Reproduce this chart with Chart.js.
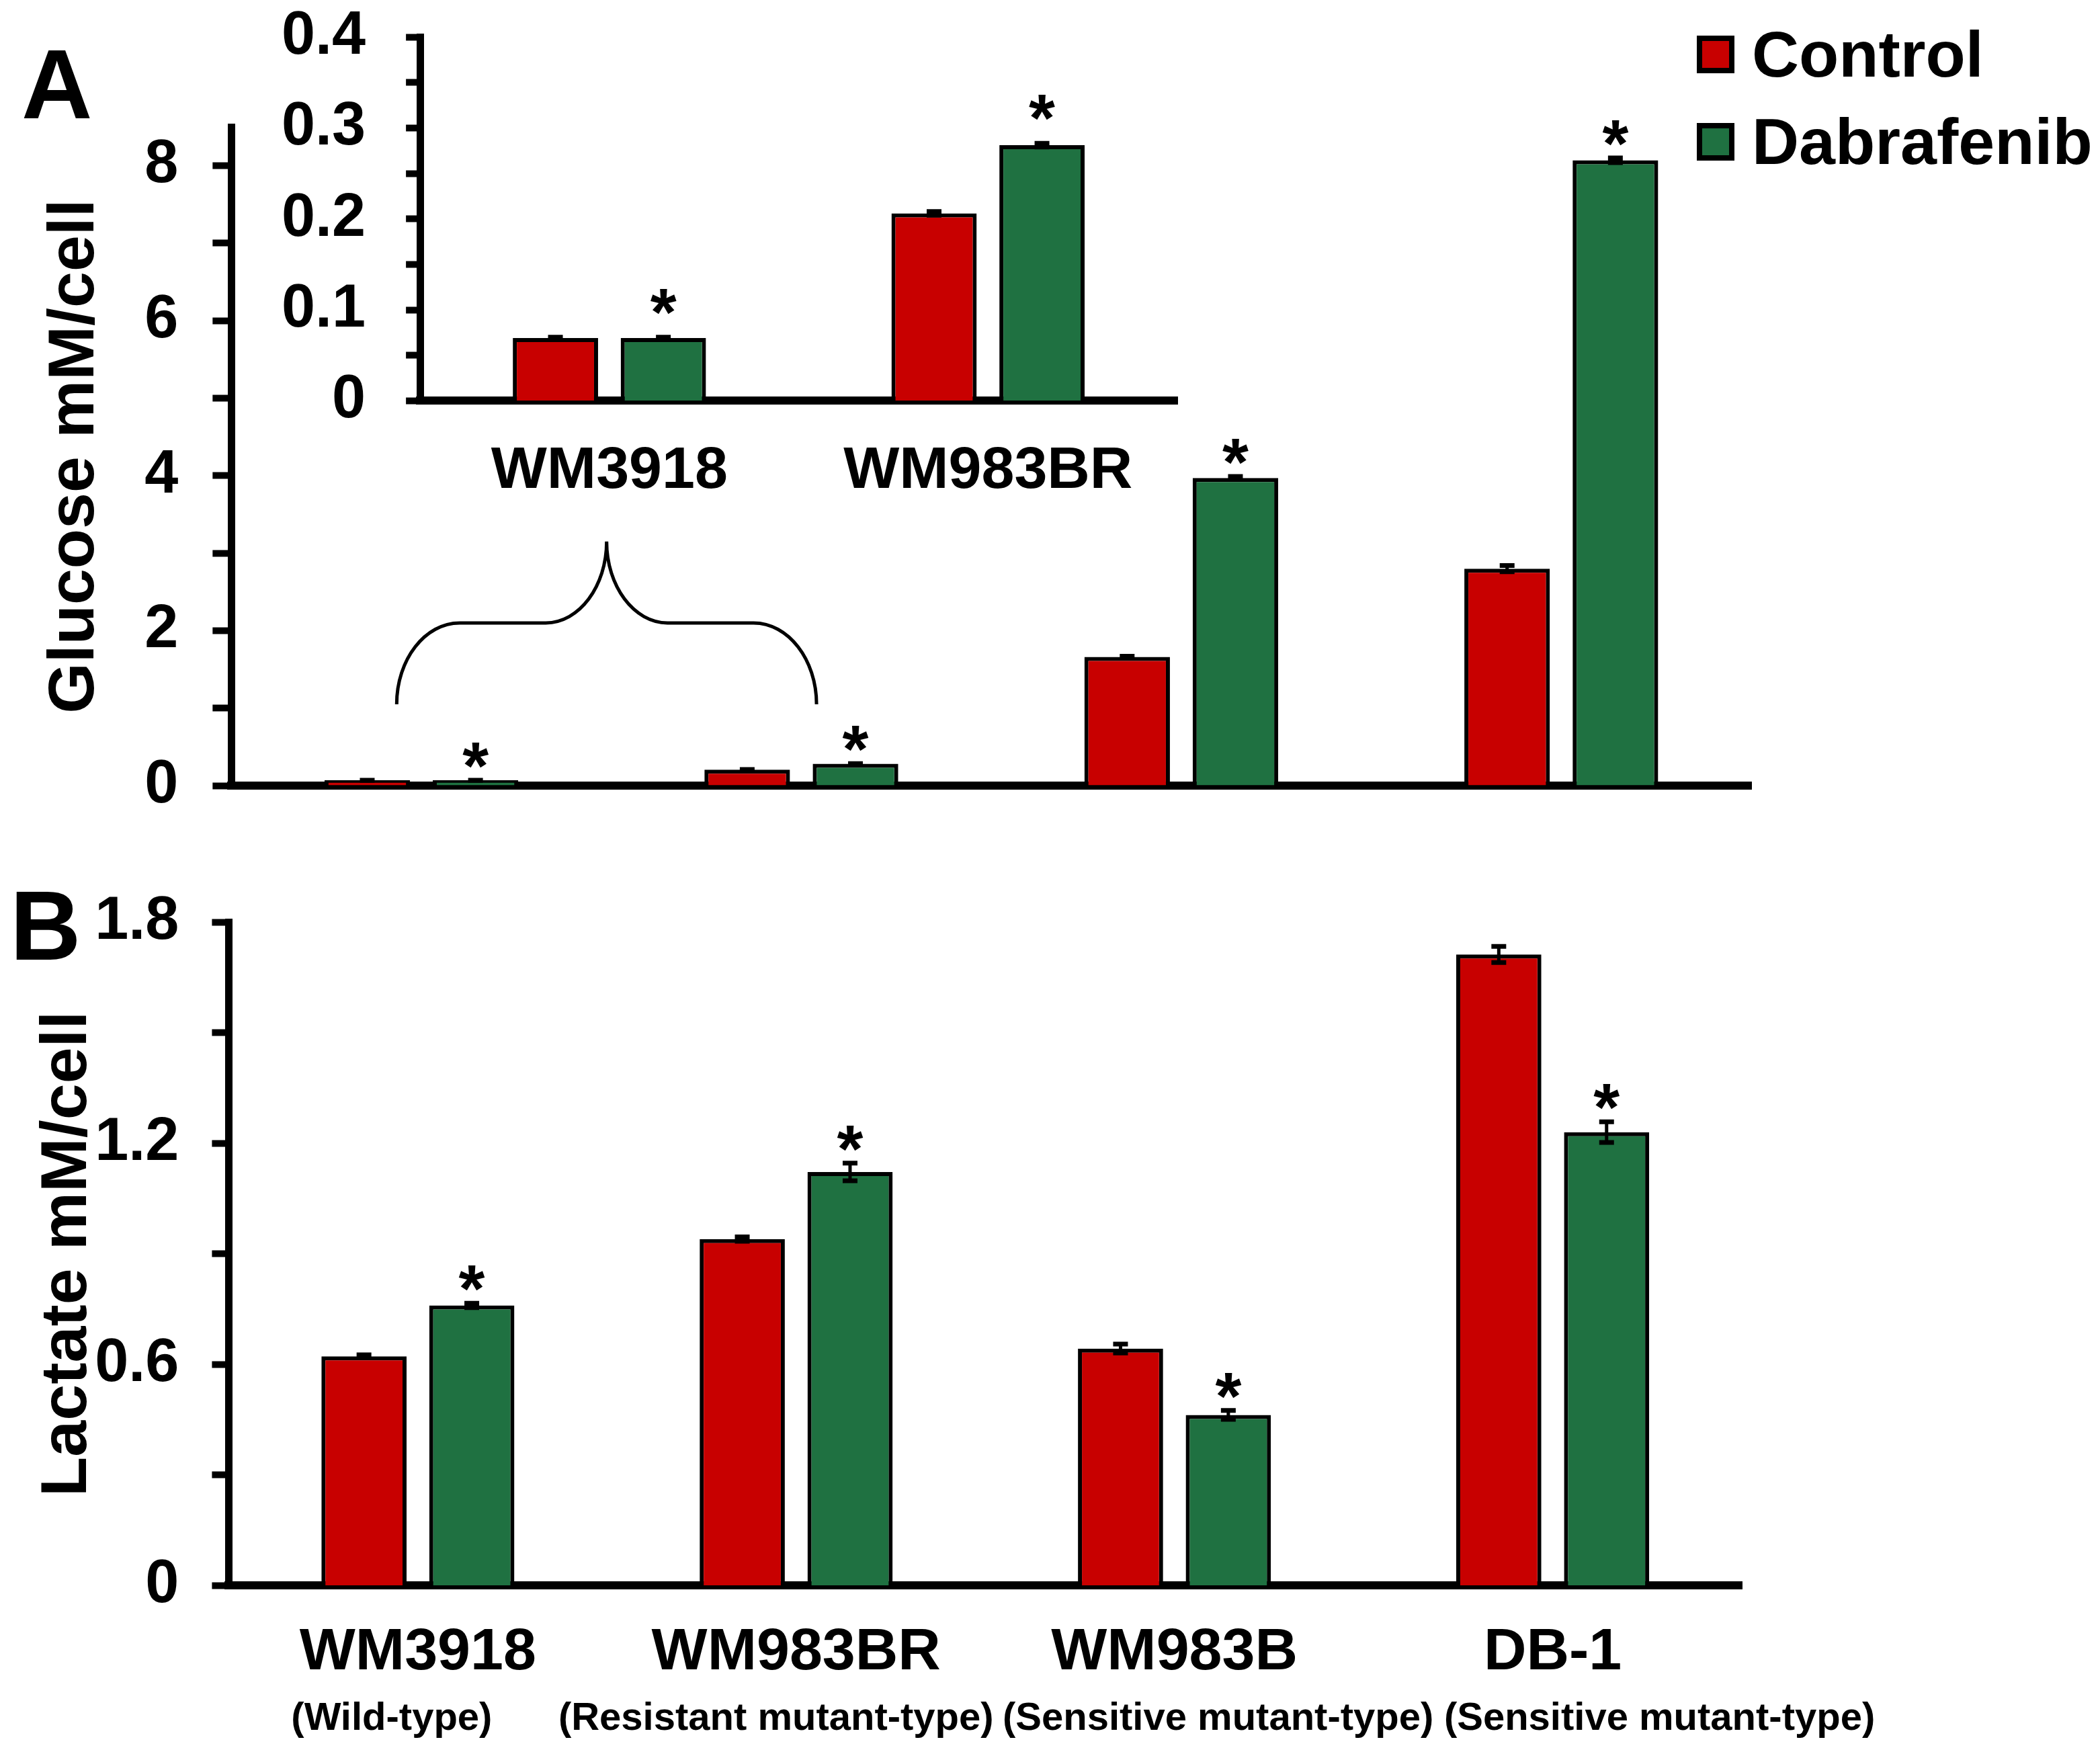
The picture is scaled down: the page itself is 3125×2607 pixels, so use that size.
<!DOCTYPE html>
<html>
<head>
<meta charset="utf-8">
<script src="https://cdn.jsdelivr.net/npm/chart.js@4.4.1/dist/chart.umd.min.js"></script>
<style>
  html, body { margin: 0; padding: 0; background: #fff; }
  body { width: 3125px; height: 2607px; position: relative; overflow: hidden; font-family: "Liberation Sans", Arial, sans-serif; color: #000; }
  canvas { position: absolute; }
  .panel-letter { position: absolute; font-weight: bold; font-size: 146px; line-height: 1; }
  #legend { position: absolute; left: 2525px; top: 16px; }
  .legend-row { display: flex; align-items: center; height: 130px; font-weight: bold; font-size: 97px; white-space: nowrap; }
  .swatch { width: 56px; height: 56px; box-sizing: border-box; border: 8px solid #000; margin-right: 26px; }
</style>
</head>
<body>
<canvas id="chart-a" width="2700" height="1274" style="left:0;top:0"></canvas>
<canvas id="chart-inset" width="1500" height="867" style="left:300px;top:-59px"></canvas>
<canvas id="chart-b" width="3125" height="1338" style="left:0;top:1269px"></canvas>
<div class="panel-letter" style="left:32px;top:53px">A</div>
<div class="panel-letter" style="left:15px;top:1305px">B</div>
<div id="legend"></div>

<script>
// --- DATA ---
const cellLines = ["WM3918", "WM983BR", "WM983B", "DB-1"];
const cellTypes = ["(Wild-type)", "(Resistant mutant-type)", "(Sensitive mutant-type)", "(Sensitive mutant-type)"];
const seriesNames = ["Control", "Dabrafenib"];
const seriesColors = ["#C80000", "#1F7141"];

// A: glucose
const glucoseControl = [0.069, 0.206, 1.66, 2.80];
const glucoseDabrafenib = [0.069, 0.281, 3.97, 8.07];
const glucoseControlErr = [0.001, 0.002, 0.01, 0.04];
const glucoseDabrafenibErr = [0.001, 0.002, 0.02, 0.03];
const glucoseSignificant = [true, true, true, true];
const glucoseTicks = [0, 2, 4, 6, 8];

// A inset: first two cell lines on a finer scale
const insetCount = 2;
const insetTicks = [0, 0.1, 0.2, 0.3, 0.4];

// B: lactate
const lactateControl = [0.622, 0.940, 0.643, 1.712];
const lactateDabrafenib = [0.760, 1.122, 0.463, 1.230];
const lactateControlErr = [0.004, 0.006, 0.012, 0.022];
const lactateDabrafenibErr = [0.006, 0.024, 0.012, 0.028];
const lactateSignificant = [true, true, true, true];
const lactateTicks = [0, 0.6, 1.2, 1.8];

// --- STYLE ---
const FONT = '"Liberation Sans", Arial, sans-serif';
Chart.defaults.font.family = FONT;
Chart.defaults.color = '#000';
const tickFont = { size: 90, weight: 'bold' };
const catFont = { size: 88, weight: 'bold' };
const titleFont = { size: 97, weight: 'bold', lineHeight: 0.9 };

// major ticks plus a minor tick halfway between each pair
const withMinor = (majors) => {
  const out = [];
  majors.forEach((v, i) => {
    out.push(v);
    if (i < majors.length - 1) out.push((v + majors[i + 1]) / 2);
  });
  return out;
};
const fmt = (v) => v === 0 ? '0' : String(v);

// --- PLUGINS ---
const errorBars = {
  id: 'errorBars',
  afterDatasetsDraw(chart, args, opts) {
    const { ctx } = chart;
    const y = chart.scales.y;
    ctx.save();
    ctx.strokeStyle = '#000';
    opts.errors.forEach((errs, di) => {
      chart.getDatasetMeta(di).data.forEach((bar, i) => {
        const v = chart.data.datasets[di].data[i];
        const top = y.getPixelForValue(v + errs[i]);
        const bot = y.getPixelForValue(v - errs[i]);
        ctx.lineWidth = 5;
        ctx.beginPath();
        ctx.moveTo(bar.x, top);
        ctx.lineTo(bar.x, bot);
        ctx.stroke();
        ctx.lineWidth = 7;
        ctx.beginPath();
        ctx.moveTo(bar.x - 11, top); ctx.lineTo(bar.x + 11, top);
        ctx.moveTo(bar.x - 11, bot); ctx.lineTo(bar.x + 11, bot);
        ctx.stroke();
      });
    });
    ctx.restore();
  }
};

const stars = {
  id: 'stars',
  afterDatasetsDraw(chart, args, opts) {
    const { ctx } = chart;
    const y = chart.scales.y;
    const ds = opts.dataset;
    ctx.save();
    ctx.fillStyle = '#000';
    ctx.font = `bold ${opts.size}px ${FONT}`;
    ctx.textAlign = 'center';
    ctx.textBaseline = 'alphabetic';
    chart.getDatasetMeta(ds).data.forEach((bar, i) => {
      if (!opts.marks[i]) return;
      const v = chart.data.datasets[ds].data[i];
      const top = y.getPixelForValue(v + opts.errors[i]);
      ctx.fillText('*', bar.x, top - opts.gap + 0.57 * opts.size);
    });
    ctx.restore();
  }
};

const brace = {
  id: 'brace',
  afterDraw(chart, args, opts) {
    if (!opts.span) return;
    const { ctx } = chart;
    const x = chart.scales.x, y = chart.scales.y;
    const xL = x.getPixelForValue(opts.span[0]);
    const xR = x.getPixelForValue(opts.span[1]);
    const xM = (xL + xR) / 2;
    const [yB, yS, yP] = opts.levels.map(v => y.getPixelForValue(v));
    const half = xM - xL;
    const c1 = half * 0.3, c2 = half * 0.29, k = 0.55;
    ctx.save();
    ctx.strokeStyle = '#000';
    ctx.lineWidth = 5;
    ctx.beginPath();
    [1, -1].forEach(dir => {
      const x0 = dir > 0 ? xL : xR;
      ctx.moveTo(x0, yB);
      ctx.bezierCurveTo(x0, yB - k * (yB - yS), x0 + dir * (c1 - k * c1), yS, x0 + dir * c1, yS);
      ctx.lineTo(xM - dir * c2, yS);
      ctx.bezierCurveTo(xM - dir * (c2 - k * c2), yS, xM, yP + k * (yS - yP), xM, yP);
    });
    ctx.stroke();
    ctx.restore();
  }
};

const subLabels = {
  id: 'subLabels',
  afterDraw(chart, args, opts) {
    if (!opts.labels) return;
    const { ctx, chartArea } = chart;
    const x = chart.scales.x;
    ctx.save();
    ctx.fillStyle = '#000';
    ctx.font = `bold ${opts.size}px ${FONT}`;
    ctx.textAlign = 'center';
    ctx.textBaseline = 'middle';
    opts.labels.forEach((t, i) => {
      ctx.fillText(t, x.getPixelForValue(i) + opts.shift[i], chartArea.bottom + opts.offset);
    });
    ctx.restore();
  }
};

// --- CHART BUILDER ---
function barChart(canvasId, cfg) {
  return new Chart(document.getElementById(canvasId), {
    type: 'bar',
    data: {
      labels: cfg.labels,
      datasets: cfg.series.map((d, i) => ({
        label: seriesNames[i],
        data: d,
        backgroundColor: seriesColors[i],
        borderColor: '#000',
        borderWidth: 6,
        categoryPercentage: 0.57,
        barPercentage: 0.79
      }))
    },
    options: {
      responsive: false,
      devicePixelRatio: 1,
      animation: false,
      events: [],
      layout: { padding: cfg.padding },
      scales: {
        x: {
          ticks: { display: cfg.showX, font: catFont, color: '#000', padding: cfg.xPad, maxRotation: 0, autoSkip: false },
          grid: { display: true, drawOnChartArea: false, drawTicks: false },
          border: { color: '#000', width: 12 }
        },
        y: {
          min: 0,
          max: cfg.max,
          afterBuildTicks: (scale) => { scale.ticks = withMinor(cfg.ticks).map(v => ({ value: v })); },
          ticks: {
            font: tickFont, color: '#000', padding: cfg.yPad, autoSkip: false,
            callback: (v) => cfg.ticks.includes(v) ? fmt(v) : ''
          },
          grid: { drawOnChartArea: false, drawTicks: true, tickLength: cfg.tickLen, tickWidth: 10, tickColor: '#000' },
          border: { color: '#000', width: 11 },
          title: cfg.title
            ? { display: true, text: cfg.title, font: titleFont, color: '#000', padding: cfg.titlePad }
            : { display: false }
        }
      },
      plugins: {
        legend: { display: false },
        tooltip: { enabled: false },
        errorBars: { errors: cfg.errors },
        stars: { dataset: 1, marks: cfg.marks, errors: cfg.errors[1], gap: cfg.starGap || 44, size: 100 },
        brace: cfg.brace || {},
        subLabels: cfg.subLabels || {}
      }
    },
    plugins: [errorBars, stars, brace, subLabels]
  });
}

// A: glucose, main axes
barChart('chart-a', {
  labels: cellLines,
  series: [glucoseControl, glucoseDabrafenib],
  errors: [glucoseControlErr, glucoseDabrafenibErr],
  marks: glucoseSignificant,
  max: 8.5,
  ticks: glucoseTicks,
  showX: false,
  xPad: 0,
  yPad: 51,
  tickLen: 28,
  title: 'Glucose mM/cell',
  titlePad: { top: 0, bottom: 8 },
  padding: { left: 69, top: 189, right: 94, bottom: 0 },
  brace: { span: [-0.065, 1.04], levels: [1.05, 2.1, 3.15] }
});

// A inset: zoom on the two low-glucose lines
barChart('chart-inset', {
  labels: cellLines.slice(0, insetCount),
  series: [glucoseControl.slice(0, insetCount), glucoseDabrafenib.slice(0, insetCount)],
  errors: [glucoseControlErr.slice(0, insetCount), glucoseDabrafenibErr.slice(0, insetCount)],
  marks: glucoseSignificant.slice(0, insetCount),
  max: 0.4,
  ticks: insetTicks,
  showX: true,
  xPad: 53,
  yPad: 60,
  tickLen: 21,
  starGap: 60,
  padding: { left: 59, top: 0, right: 48, bottom: 0 }
});

// B: lactate
barChart('chart-b', {
  labels: cellLines,
  series: [lactateControl, lactateDabrafenib],
  errors: [lactateControlErr, lactateDabrafenibErr],
  marks: lactateSignificant,
  max: 1.8,
  ticks: lactateTicks,
  showX: true,
  xPad: 48,
  yPad: 49,
  tickLen: 25,
  title: 'Lactate mM/cell',
  titlePad: { top: 0, bottom: -53 },
  padding: { left: 58, top: 0, right: 533, bottom: 46 },
  subLabels: { labels: cellTypes, shift: [-39, -30, 65, 159], offset: 199, size: 58 }
});

// --- LEGEND ---
document.getElementById('legend').innerHTML = seriesNames.map((name, i) => `
  <div class="legend-row"><span class="swatch" style="background:${seriesColors[i]}"></span>${name}</div>
`).join('');
</script>
</body>
</html>
